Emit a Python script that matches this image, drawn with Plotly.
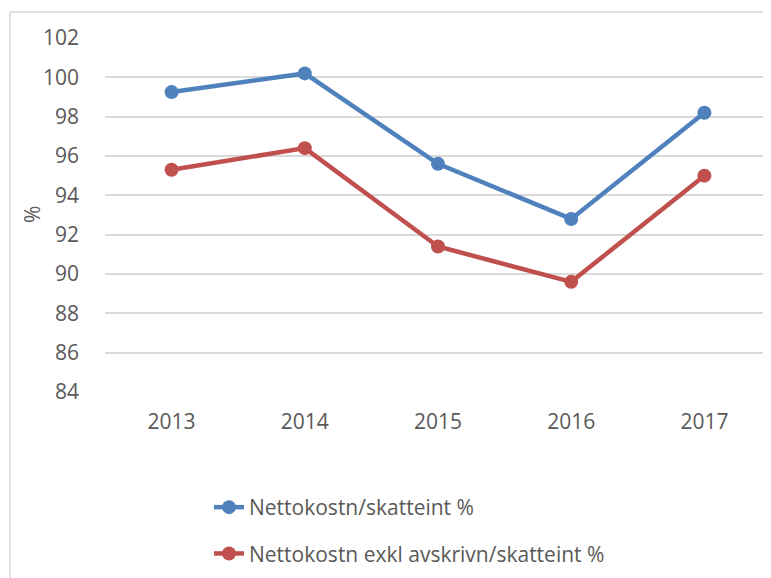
import plotly.graph_objects as go

years = ["2013", "2014", "2015", "2016", "2017"]
netto = [99.25, 100.2, 95.6, 92.8, 98.2]
netto_exkl = [95.3, 96.4, 91.4, 89.6, 95.0]
series_names = ["Nettokostn/skatteint %", "Nettokostn exkl avskrivn/skatteint %"]
y_title = "%"
colors = ["#4F81BD", "#C0504D"]

# the page body adds an 8px offset
W, H = 763, 570
L, R, T, B = 97, 0, 30, 186
pw, ph = W - L - R, H - T - B
OFF = 8

def px_x(x):
    return (x - OFF - L) / pw

def px_y(y):
    return 1 - (y - OFF - T) / ph

FONT = "Open Sans, Noto Sans, sans-serif"
GREY = "#595959"

fig = go.Figure()
for i, (name, vals, c) in enumerate(zip(series_names, [netto, netto_exkl], colors)):
    fig.add_trace(go.Scatter(
        x=years, y=vals, name=name, mode="lines+markers",
        legendgroup="g%d" % i,
        line=dict(color=c, width=4.5),
        marker=dict(color=c, size=14),
    ))

fig.update_layout(
    width=W, height=H,
    margin=dict(l=L, r=R, t=T, b=B),
    paper_bgcolor="white", plot_bgcolor="white",
    font=dict(family=FONT, color=GREY, size=21),
    xaxis=dict(type="category", range=[-0.5, 4.5], showgrid=False, showline=False,
               ticks="", ticklabelstandoff=15, tickfont=dict(size=21, color=GREY)),
    yaxis=dict(range=[84, 102], dtick=2, showgrid=True, gridcolor="#D9D9D9", gridwidth=1.5,
               zeroline=False, showline=False, ticks="", ticklabelstandoff=25,
               tickfont=dict(size=21, color=GREY)),
    showlegend=True,
    legend=dict(x=px_x(209), y=px_y(487), xanchor="left", yanchor="top",
                bgcolor="rgba(0,0,0,0)", font=dict(size=21, color=GREY),
                tracegroupgap=16, traceorder="grouped"),
    annotations=[
        dict(text=y_title, xref="paper", yref="paper", x=px_x(32), y=px_y(215),
             xanchor="center", yanchor="middle", textangle=-90, showarrow=False,
             font=dict(size=21, color=GREY)),
    ],
    shapes=[
        dict(type="line", xref="paper", yref="paper", x0=px_x(10), x1=px_x(775),
             y0=px_y(12), y1=px_y(12), line=dict(color="#D9D9D9", width=1.5)),
        dict(type="line", xref="paper", yref="paper", x0=px_x(10), x1=px_x(10),
             y0=px_y(12), y1=px_y(585), line=dict(color="#D9D9D9", width=1.5)),
    ],
)

fig.write_html("out.html")
